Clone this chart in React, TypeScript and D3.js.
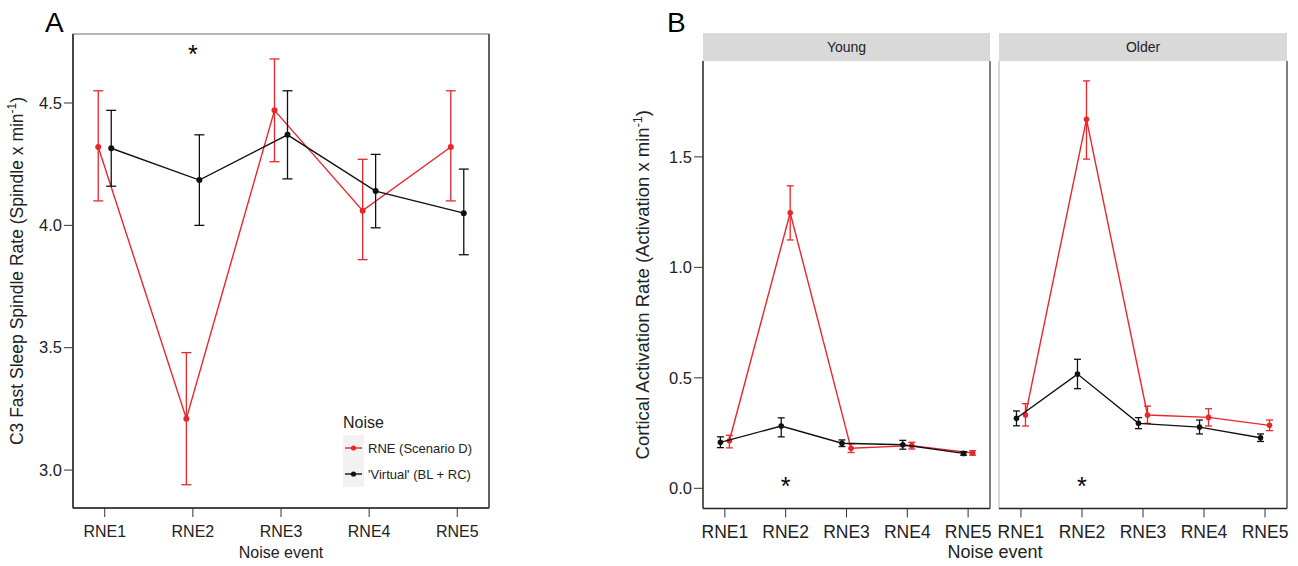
import React from 'react';
import * as d3 from 'd3';

const events = ['RNE1', 'RNE2', 'RNE3', 'RNE4', 'RNE5'];

// Panel A: C3 fast sleep spindle rate
const spindleRNE = [4.32, 3.21, 4.47, 4.06, 4.32];
const spindleRNELo = [4.10, 2.94, 4.26, 3.86, 4.10];
const spindleRNEHi = [4.55, 3.48, 4.68, 4.27, 4.55];
const spindleVirt = [4.315, 4.185, 4.37, 4.14, 4.05];
const spindleVirtLo = [4.16, 4.00, 4.19, 3.99, 3.88];
const spindleVirtHi = [4.47, 4.37, 4.55, 4.29, 4.23];
const spindleTicks = [3.0, 3.5, 4.0, 4.5];

// Panel B: cortical activation rate, by age group
const groups = ['Young', 'Older'];
const actRNE = [
  [0.215, 1.247, 0.181, 0.193, 0.160],
  [0.332, 1.670, 0.332, 0.321, 0.285],
];
const actRNELo = [
  [0.183, 1.124, 0.162, 0.178, 0.150],
  [0.282, 1.490, 0.294, 0.282, 0.261],
];
const actRNEHi = [
  [0.240, 1.369, 0.201, 0.208, 0.170],
  [0.383, 1.844, 0.372, 0.360, 0.309],
];
const actVirt = [
  [0.208, 0.282, 0.204, 0.197, 0.158],
  [0.317, 0.517, 0.294, 0.277, 0.229],
];
const actVirtLo = [
  [0.184, 0.233, 0.189, 0.177, 0.150],
  [0.283, 0.451, 0.270, 0.246, 0.212],
];
const actVirtHi = [
  [0.233, 0.319, 0.219, 0.217, 0.166],
  [0.350, 0.584, 0.320, 0.309, 0.246],
];
const actTicks = [0.0, 0.5, 1.0, 1.5];

const RED = '#e8262c';
const BLACK = '#111';
const FONT = '"Liberation Sans", Arial, sans-serif';

type Series = { vals: number[]; lo: number[]; hi: number[]; color: string; dx: number };

const SeriesMarks: React.FC<{
  s: Series;
  x: d3.ScalePoint<string>;
  y: d3.ScaleLinear<number, number>;
  cap: number;
  r: number;
}> = ({ s, x, y, cap, r }) => {
  const line = d3
    .line<number>()
    .x((_, i) => (x(events[i]) as number) + s.dx)
    .y((d) => y(d));
  return (
    <g>
      {s.vals.map((_, i) => {
        const cx = (x(events[i]) as number) + s.dx;
        return (
          <g key={i} stroke={s.color} strokeWidth={1.3}>
            <line x1={cx} x2={cx} y1={y(s.lo[i])} y2={y(s.hi[i])} />
            <line x1={cx - cap} x2={cx + cap} y1={y(s.lo[i])} y2={y(s.lo[i])} />
            <line x1={cx - cap} x2={cx + cap} y1={y(s.hi[i])} y2={y(s.hi[i])} />
          </g>
        );
      })}
      <path d={line(s.vals) || ''} fill="none" stroke={s.color} strokeWidth={1.4} />
      {s.vals.map((v, i) => (
        <circle key={i} cx={(x(events[i]) as number) + s.dx} cy={y(v)} r={r} fill={s.color} />
      ))}
    </g>
  );
};

const XAxis: React.FC<{ x: d3.ScalePoint<string>; y0: number; fs: number }> = ({ x, y0, fs }) => (
  <g>
    {events.map((e) => (
      <g key={e}>
        <line x1={x(e)} x2={x(e)} y1={y0} y2={y0 + 9} stroke="#333" strokeWidth={1} />
        <text x={x(e)} y={y0 + 29} textAnchor="middle" fontSize={fs} fill="#222">
          {e}
        </text>
      </g>
    ))}
  </g>
);

const YAxis: React.FC<{ y: d3.ScaleLinear<number, number>; x0: number; ticks: number[]; fs: number }> = ({ y, x0, ticks, fs }) => (
  <g>
    {ticks.map((t) => (
      <g key={t}>
        <line x1={x0 - 9} x2={x0} y1={y(t)} y2={y(t)} stroke="#333" strokeWidth={1} />
        <text x={x0 - 11} y={y(t)} dy="0.35em" textAnchor="end" fontSize={fs} fill="#222">
          {t.toFixed(1)}
        </text>
      </g>
    ))}
  </g>
);

const App: React.FC = () => {
  const W = 1298;
  const H = 566;

  // Panel A frame
  const A = { left: 73, right: 489, top: 34, bottom: 508 };
  const xA = d3.scalePoint<string>().domain(events).range([A.left, A.right]).padding(0.36);
  const yA = d3.scaleLinear().domain([2.845, 4.782]).range([A.bottom, A.top]);

  // Panel B frames
  const B = { top: 61, stripTop: 33, bottom: 508.5 };
  const facets = [
    { left: 703, right: 990 },
    { left: 999, right: 1287 },
  ];
  const yB = d3.scaleLinear().domain([-0.0914, 1.934]).range([B.bottom, B.top]);

  return (
    <svg width={W} height={H} style={{ display: 'block', position: 'absolute', left: 0, top: 0 }} fontFamily={FONT}>
      <rect width={W} height={H} fill="#fff" />

      {/* ---------- Panel A ---------- */}
      <text x={45} y={32} fontSize={28} fill="#000">A</text>
      <rect x={A.left} y={A.top} width={A.right - A.left} height={A.bottom - A.top} fill="#fff" stroke="#888" strokeWidth={1.2} />
      <line x1={A.left} x2={A.left} y1={A.top} y2={A.bottom} stroke="#222" strokeWidth={1.5} />
      <line x1={A.left} x2={A.right} y1={A.bottom} y2={A.bottom} stroke="#222" strokeWidth={1.5} />
      <line x1={A.right} x2={A.right} y1={A.top} y2={A.bottom} stroke="#444" strokeWidth={1.5} />
      <YAxis y={yA} x0={A.left} ticks={spindleTicks} fs={16.5} />
      <XAxis x={xA} y0={A.bottom} fs={16} />
      <SeriesMarks s={{ vals: spindleRNE, lo: spindleRNELo, hi: spindleRNEHi, color: RED, dx: -6.5 }} x={xA} y={yA} cap={5} r={3} />
      <SeriesMarks s={{ vals: spindleVirt, lo: spindleVirtLo, hi: spindleVirtHi, color: BLACK, dx: 6.5 }} x={xA} y={yA} cap={5} r={3} />
      <text x={xA('RNE2')} y={63} textAnchor="middle" fontSize={25} fill="#000">*</text>
      <text transform={`translate(23,${(A.top + A.bottom) / 2}) rotate(-90)`} textAnchor="middle" fontSize={17.5} fill="#222">
        C3 Fast Sleep Spindle Rate (Spindle x min<tspan dy={-7} fontSize={12}>-1</tspan><tspan dy={7}>)</tspan>
      </text>
      <text x={(A.left + A.right) / 2} y={558} textAnchor="middle" fontSize={16} fill="#222">Noise event</text>

      {/* legend */}
      <text x={343} y={428} fontSize={16} fill="#222">Noise</text>
      <rect x={343} y={435} width={21} height={52} fill="#f2f2f2" />
      {[
        { label: 'RNE (Scenario D)', color: RED, y: 448 },
        { label: "'Virtual' (BL + RC)", color: BLACK, y: 474 },
      ].map((d) => (
        <g key={d.label}>
          <line x1={345} x2={362} y1={d.y} y2={d.y} stroke={d.color} strokeWidth={1.4} />
          <circle cx={353.5} cy={d.y} r={2.6} fill={d.color} />
          <text x={368} y={d.y} dy="0.35em" fontSize={13} fill="#222">{d.label}</text>
        </g>
      ))}

      {/* ---------- Panel B ---------- */}
      <text x={667} y={32} fontSize={28} fill="#000">B</text>
      {facets.map((f, gi) => {
        const xB = d3.scalePoint<string>().domain(events).range([f.left, f.right]).padding(0.36);
        return (
          <g key={groups[gi]}>
            <rect x={f.left} y={B.stripTop} width={f.right - f.left} height={B.top - B.stripTop} fill="#d9d9d9" />
            <text x={(f.left + f.right) / 2} y={(B.stripTop + B.top) / 2} dy="0.35em" textAnchor="middle" fontSize={14} fill="#222">
              {groups[gi]}
            </text>
            <line x1={f.left} x2={f.left} y1={B.top} y2={B.bottom} stroke={gi === 0 ? '#222' : '#ccc'} strokeWidth={1.5} />
            <line x1={f.right} x2={f.right} y1={B.top} y2={B.bottom} stroke="#555" strokeWidth={1.5} />
            <line x1={f.left} x2={f.right} y1={B.bottom} y2={B.bottom} stroke="#222" strokeWidth={1.5} />
            <XAxis x={xB} y0={B.bottom} fs={17.5} />
            <SeriesMarks
              s={{ vals: actRNE[gi], lo: actRNELo[gi], hi: actRNEHi[gi], color: RED, dx: 4.5 }}
              x={xB} y={yB} cap={3.5} r={2.8}
            />
            <SeriesMarks
              s={{ vals: actVirt[gi], lo: actVirtLo[gi], hi: actVirtHi[gi], color: BLACK, dx: -4.5 }}
              x={xB} y={yB} cap={3.5} r={2.8}
            />
            <text x={xB('RNE2')} y={495} textAnchor="middle" fontSize={25} fill="#000">*</text>
          </g>
        );
      })}
      <YAxis y={yB} x0={facets[0].left} ticks={actTicks} fs={16.5} />
      <text transform={`translate(649,${(B.top + B.bottom) / 2}) rotate(-90)`} textAnchor="middle" fontSize={18.5} fill="#222">
        Cortical Activation Rate (Activation x min<tspan dy={-7} fontSize={12.5}>-1</tspan><tspan dy={7}>)</tspan>
      </text>
      <text x={(facets[0].left + facets[1].right) / 2} y={558} textAnchor="middle" fontSize={18} fill="#222">Noise event</text>
    </svg>
  );
};

export default App;
